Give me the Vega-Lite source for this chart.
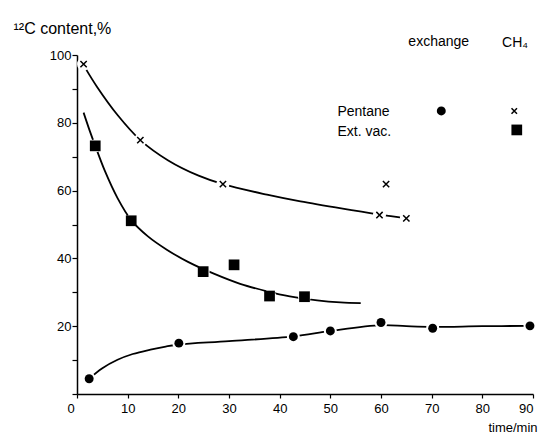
{
  "$schema": "https://vega.github.io/schema/vega-lite/v6.json",
  "width": 456,
  "height": 339,
  "autosize": "none",
  "padding": {"left": 77, "top": 55, "right": 8, "bottom": 39},
  "background": "white",
  "config": {
    "view": {"stroke": null},
    "font": "Liberation Sans",
    "axis": {"domainColor": "black", "tickColor": "black", "labelColor": "black", "titleColor": "black", "domainWidth": 1.5, "tickWidth": 1.2, "labelFont": "Liberation Sans", "titleFont": "Liberation Sans", "labelFontSize": 13, "titleFontWeight": "normal", "grid": false, "zindex": 1}
  },
  "datasets": {
    "pts": [
      {"series": "CH4", "t": 1.3, "c": 97.3},
      {"series": "CH4", "t": 12.5, "c": 74.9},
      {"series": "CH4", "t": 28.8, "c": 61.9},
      {"series": "CH4", "t": 59.7, "c": 52.8},
      {"series": "CH4", "t": 61.0, "c": 61.9},
      {"series": "CH4", "t": 65.0, "c": 51.8},
      {"series": "Ext. vac.", "t": 3.6, "c": 73.2},
      {"series": "Ext. vac.", "t": 10.7, "c": 51.1},
      {"series": "Ext. vac.", "t": 24.9, "c": 36.1},
      {"series": "Ext. vac.", "t": 31.0, "c": 38.1},
      {"series": "Ext. vac.", "t": 38.0, "c": 28.9},
      {"series": "Ext. vac.", "t": 44.9, "c": 28.7},
      {"series": "Pentane", "t": 2.4, "c": 4.5},
      {"series": "Pentane", "t": 20.1, "c": 15.0},
      {"series": "Pentane", "t": 42.7, "c": 16.9},
      {"series": "Pentane", "t": 50.0, "c": 18.6},
      {"series": "Pentane", "t": 60.0, "c": 21.1},
      {"series": "Pentane", "t": 70.2, "c": 19.4},
      {"series": "Pentane", "t": 89.4, "c": 20.1}
    ],
    "curves": [
      {"series": "CH4", "t": 1.5, "c": 96.5},
      {"series": "CH4", "t": 4, "c": 90.5},
      {"series": "CH4", "t": 8, "c": 82.3},
      {"series": "CH4", "t": 12.5, "c": 74.9},
      {"series": "CH4", "t": 18, "c": 68.9},
      {"series": "CH4", "t": 24, "c": 64.4},
      {"series": "CH4", "t": 28.8, "c": 61.9},
      {"series": "CH4", "t": 37.5, "c": 58.8},
      {"series": "CH4", "t": 44.1, "c": 56.8},
      {"series": "CH4", "t": 53.9, "c": 54.3},
      {"series": "CH4", "t": 59.7, "c": 52.9},
      {"series": "CH4", "t": 65.0, "c": 51.8},
      {"series": "Ext. vac.", "t": 1.3, "c": 83},
      {"series": "Ext. vac.", "t": 2.5, "c": 77.7},
      {"series": "Ext. vac.", "t": 3.6, "c": 73.2},
      {"series": "Ext. vac.", "t": 5.5, "c": 65.8},
      {"series": "Ext. vac.", "t": 8, "c": 57.8},
      {"series": "Ext. vac.", "t": 10.7, "c": 51.3},
      {"series": "Ext. vac.", "t": 14, "c": 46.5},
      {"series": "Ext. vac.", "t": 17.8, "c": 42.5},
      {"series": "Ext. vac.", "t": 22, "c": 38.9},
      {"series": "Ext. vac.", "t": 27, "c": 35.5},
      {"series": "Ext. vac.", "t": 32.2, "c": 32.5},
      {"series": "Ext. vac.", "t": 37.5, "c": 30.3},
      {"series": "Ext. vac.", "t": 42, "c": 28.8},
      {"series": "Ext. vac.", "t": 47.4, "c": 27.6},
      {"series": "Ext. vac.", "t": 52, "c": 27.0},
      {"series": "Ext. vac.", "t": 56, "c": 26.8},
      {"series": "Pentane", "t": 2.4, "c": 4.5},
      {"series": "Pentane", "t": 5, "c": 7.6},
      {"series": "Pentane", "t": 8, "c": 10.1},
      {"series": "Pentane", "t": 11, "c": 11.8},
      {"series": "Pentane", "t": 14.5, "c": 13.1},
      {"series": "Pentane", "t": 17.5, "c": 14},
      {"series": "Pentane", "t": 20.1, "c": 14.6},
      {"series": "Pentane", "t": 30, "c": 15.6},
      {"series": "Pentane", "t": 42.7, "c": 17},
      {"series": "Pentane", "t": 50, "c": 18.6},
      {"series": "Pentane", "t": 60, "c": 20.3},
      {"series": "Pentane", "t": 65, "c": 20},
      {"series": "Pentane", "t": 70.2, "c": 19.8},
      {"series": "Pentane", "t": 80, "c": 20},
      {"series": "Pentane", "t": 89.4, "c": 20.1}
    ],
    "legendText": [
      {"label": "exchange", "t": 65.4, "c": 102.7},
      {"label": "CH₄", "t": 83.9, "c": 102.5},
      {"label": "Pentane", "t": 51.4, "c": 82.0},
      {"label": "Ext. vac.", "t": 51.4, "c": 76.1}
    ],
    "legendSym": [
      {"series": "Pentane", "t": 71.9, "c": 83.5},
      {"series": "CH4", "t": 86.3, "c": 83.5},
      {"series": "Ext. vac.", "t": 86.8, "c": 77.9}
    ]
  },
  "encoding": {
    "x": {
      "field": "t", "type": "quantitative",
      "scale": {"domain": [0, 90], "nice": false, "zero": false},
      "axis": {
        "values": [0, 10, 20, 30, 40, 50, 60, 70, 80, 90],
        "tickSize": 4, "labelPadding": 4,
        "labelOffset": {"condition": {"test": "datum.value === 0", "value": -10}, "value": 0},
        "title": "time/min", "titleFontSize": 13, "titleAnchor": "end", "titleAlign": "right",
        "titleBaseline": "alphabetic", "titleX": 460, "titleY": 37
      }
    },
    "y": {
      "field": "c", "type": "quantitative",
      "scale": {"domain": [0, 100], "nice": false, "zero": false},
      "axis": {
        "values": [0, 10, 20, 30, 40, 50, 60, 70, 80, 90, 100],
        "labelExpr": "datum.value % 20 === 0 && datum.value > 0 ? datum.label : ''",
        "tickSize": 5, "labelPadding": 1,
        "title": "¹²C content,%", "titleFontSize": 16, "titleAngle": 0,
        "titleAlign": "left", "titleBaseline": "alphabetic", "titleX": -64, "titleY": -22
      }
    }
  },
  "layer": [
    {
      "data": {"name": "curves"},
      "mark": {"type": "line", "color": "black", "strokeWidth": 1.8, "interpolate": "catmull-rom"},
      "encoding": {"detail": {"field": "series"}}
    },
    {
      "data": {"name": "pts"},
      "mark": {"type": "point", "shape": "circle", "filled": true, "color": "white", "opacity": 1, "size": 170}
    },
    {
      "data": {"name": "pts"},
      "transform": [{"filter": "datum.series !== 'CH4'"}],
      "mark": {"type": "point", "filled": true, "color": "black", "opacity": 1},
      "encoding": {
        "shape": {"field": "series", "type": "nominal", "scale": {"domain": ["Pentane", "Ext. vac."], "range": ["circle", "square"]}, "legend": null},
        "size": {"field": "series", "type": "nominal", "scale": {"domain": ["Pentane", "Ext. vac."], "range": [80, 115]}, "legend": null}
      }
    },
    {
      "data": {"name": "pts"},
      "transform": [{"filter": "datum.series === 'CH4'"}],
      "mark": {"type": "point", "shape": "M-1,-1L1,1M1,-1L-1,1", "filled": false, "color": "black", "strokeWidth": 1.5, "opacity": 1, "size": 40}
    },
    {
      "data": {"name": "legendText"},
      "mark": {"type": "text", "align": "left", "baseline": "alphabetic", "fontSize": 14, "color": "black", "font": "Liberation Sans"},
      "encoding": {"text": {"field": "label"}}
    },
    {
      "data": {"name": "legendSym"},
      "transform": [{"filter": "datum.series !== 'CH4'"}],
      "mark": {"type": "point", "filled": true, "color": "black", "opacity": 1},
      "encoding": {
        "shape": {"field": "series", "type": "nominal", "scale": {"domain": ["Pentane", "Ext. vac."], "range": ["circle", "square"]}, "legend": null},
        "size": {"field": "series", "type": "nominal", "scale": {"domain": ["Pentane", "Ext. vac."], "range": [80, 115]}, "legend": null}
      }
    },
    {
      "data": {"name": "legendSym"},
      "transform": [{"filter": "datum.series === 'CH4'"}],
      "mark": {"type": "point", "shape": "M-1,-1L1,1M1,-1L-1,1", "filled": false, "color": "black", "strokeWidth": 1.5, "opacity": 1, "size": 30}
    }
  ]
}
